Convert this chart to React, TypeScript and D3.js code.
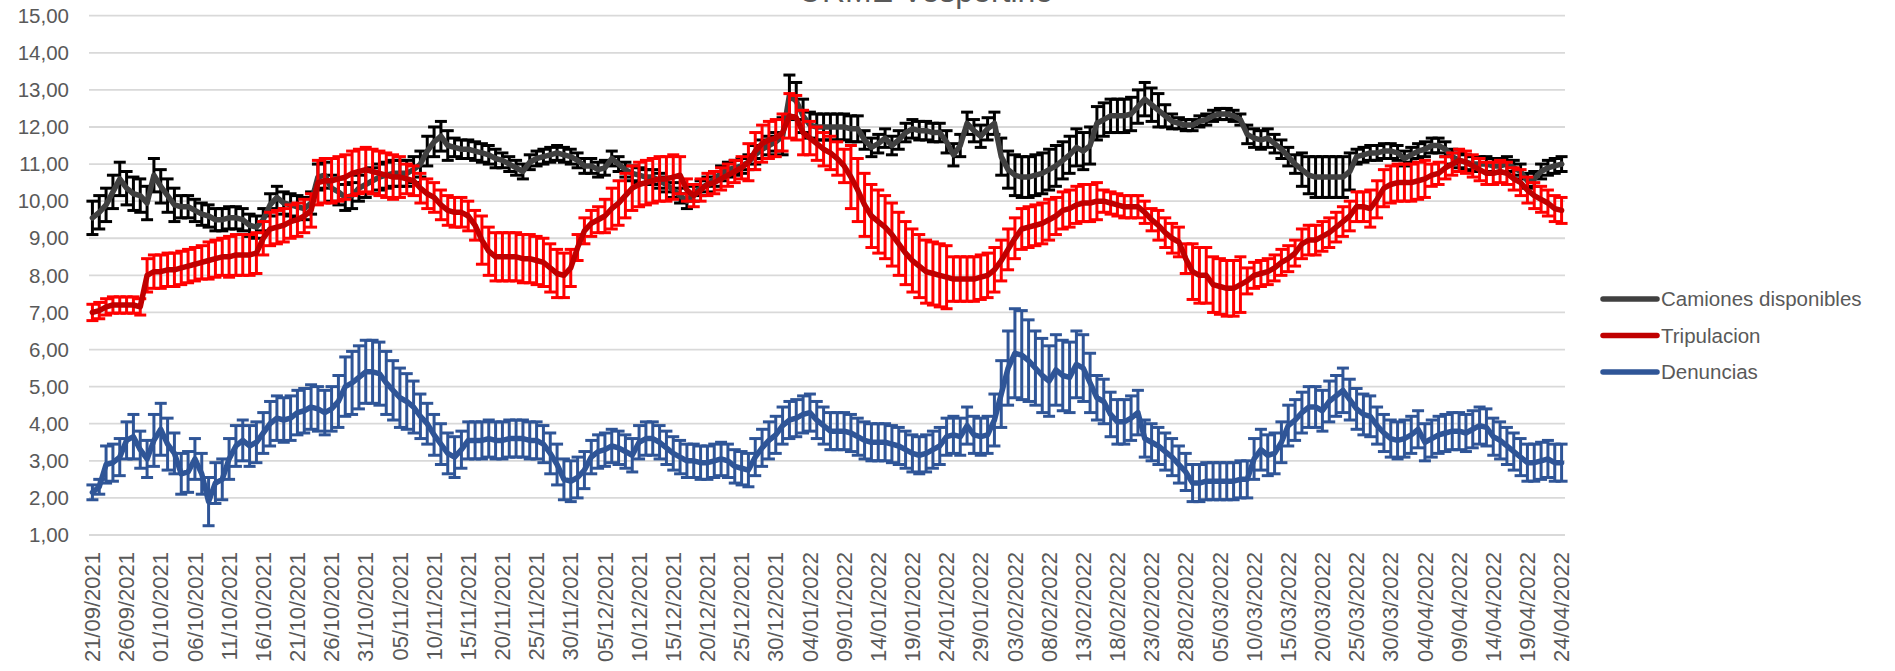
import React from 'react';
import * as d3 from 'd3';

// daily categories 21/09/2021 .. 24/04/2022
const dates = d3.timeDay.range(new Date(2021, 8, 21), new Date(2022, 3, 25));
const fmt = d3.timeFormat('%d/%m/%Y');
const labels = dates.map(d => fmt(d));

const camiones = [
  9.55, 9.7, 9.9, 10.25, 10.6, 10.35, 10.2, 10.15, 9.95, 10.7, 10.4, 10.15, 9.9, 9.85, 9.85, 9.75, 9.65, 9.6, 9.5, 9.5,
  9.55, 9.55, 9.5, 9.35, 9.3, 9.5, 9.9, 10.1, 9.95, 9.9, 9.85, 9.8, 9.95, 10.65, 10.7, 10.35, 10.25, 10.1, 10.15, 10.35,
  10.45, 10.55, 10.65, 10.7, 10.75, 10.75, 10.75, 10.85, 11.0, 11.35, 11.6, 11.75, 11.5, 11.45, 11.4, 11.4, 11.35, 11.3, 11.25, 11.15,
  11.1, 11.0, 10.9, 10.8, 11.05, 11.15, 11.2, 11.25, 11.3, 11.25, 11.2, 11.1, 10.95, 10.95, 10.85, 10.9, 11.15, 11.0, 10.85, 10.75,
  10.7, 10.65, 10.65, 10.55, 10.45, 10.3, 10.15, 10.0, 10.2, 10.35, 10.45, 10.6, 10.75, 10.85, 10.9, 10.95, 11.05, 11.25, 11.4, 11.5,
  11.6, 11.75, 12.85, 12.7, 12.3, 12.05, 12.0, 12.0, 12.0, 12.0, 12.0, 11.95, 11.95, 11.65, 11.45, 11.55, 11.7, 11.5, 11.65, 11.85,
  11.95, 11.9, 11.9, 11.85, 11.85, 11.6, 11.25, 11.5, 12.1, 11.9, 11.75, 11.95, 12.1, 11.2, 10.85, 10.7, 10.65, 10.65, 10.7, 10.75,
  10.85, 10.95, 11.1, 11.25, 11.45, 11.35, 11.5, 12.1, 12.2, 12.3, 12.3, 12.3, 12.35, 12.55, 12.75, 12.6, 12.45, 12.3, 12.15, 12.1,
  12.05, 12.05, 12.15, 12.2, 12.3, 12.35, 12.35, 12.3, 12.2, 11.8, 11.7, 11.65, 11.7, 11.55, 11.4, 11.2, 11.0, 10.85, 10.7, 10.65,
  10.65, 10.65, 10.65, 10.65, 10.8, 11.2, 11.25, 11.3, 11.3, 11.35, 11.35, 11.3, 11.15, 11.25, 11.35, 11.4, 11.5, 11.5, 11.4, 11.2,
  11.1, 11.05, 11.0, 11.0, 11.0, 10.95, 10.95, 11.0, 10.9, 10.8, 10.55, 10.6, 10.8, 10.9, 10.95, 11.0,
];
const camionesErr = [
  0.45, 0.45, 0.45, 0.45, 0.45, 0.45, 0.45, 0.45, 0.45, 0.45, 0.45, 0.45, 0.45, 0.3, 0.3, 0.3, 0.3, 0.3, 0.3, 0.3,
  0.3, 0.3, 0.3, 0.3, 0.3, 0.3, 0.3, 0.3, 0.3, 0.3, 0.3, 0.3, 0.3, 0.35, 0.35, 0.35, 0.35, 0.35, 0.35, 0.35,
  0.35, 0.35, 0.35, 0.35, 0.35, 0.35, 0.35, 0.35, 0.35, 0.4, 0.4, 0.4, 0.4, 0.25, 0.25, 0.25, 0.25, 0.25, 0.25, 0.25,
  0.2, 0.2, 0.2, 0.2, 0.2, 0.2, 0.2, 0.2, 0.2, 0.2, 0.2, 0.2, 0.2, 0.2, 0.2, 0.2, 0.2, 0.2, 0.2, 0.2,
  0.2, 0.2, 0.2, 0.2, 0.2, 0.2, 0.2, 0.2, 0.2, 0.2, 0.2, 0.2, 0.2, 0.2, 0.2, 0.2, 0.2, 0.25, 0.25, 0.25,
  0.25, 0.5, 0.55, 0.5, 0.45, 0.35, 0.35, 0.35, 0.35, 0.35, 0.35, 0.35, 0.35, 0.25, 0.25, 0.25, 0.25, 0.25, 0.25, 0.25,
  0.25, 0.25, 0.25, 0.25, 0.25, 0.3, 0.3, 0.3, 0.3, 0.3, 0.3, 0.3, 0.3, 0.5, 0.5, 0.55, 0.55, 0.55, 0.55, 0.55,
  0.55, 0.55, 0.5, 0.5, 0.5, 0.5, 0.5, 0.45, 0.45, 0.45, 0.45, 0.45, 0.45, 0.45, 0.45, 0.45, 0.45, 0.3, 0.2, 0.15,
  0.15, 0.15, 0.15, 0.15, 0.15, 0.15, 0.15, 0.15, 0.15, 0.25, 0.25, 0.25, 0.25, 0.25, 0.25, 0.25, 0.25, 0.45, 0.5, 0.55,
  0.55, 0.55, 0.55, 0.55, 0.5, 0.2, 0.2, 0.2, 0.2, 0.2, 0.2, 0.2, 0.2, 0.2, 0.2, 0.2, 0.2, 0.2, 0.2, 0.2,
  0.2, 0.2, 0.2, 0.2, 0.2, 0.2, 0.2, 0.2, 0.2, 0.2, 0.2, 0.2, 0.2, 0.2, 0.2, 0.2,
];

const tripulacion = [
  7.0, 7.05, 7.15, 7.2, 7.2, 7.2, 7.2, 7.15, 8.0, 8.1, 8.1, 8.15, 8.15, 8.2, 8.25, 8.3, 8.35, 8.4, 8.45, 8.5,
  8.5, 8.55, 8.55, 8.55, 8.6, 9.0, 9.25, 9.3, 9.35, 9.45, 9.5, 9.6, 9.75, 10.5, 10.55, 10.55, 10.6, 10.65, 10.75, 10.8,
  10.85, 10.8, 10.75, 10.7, 10.65, 10.65, 10.6, 10.55, 10.35, 10.2, 10.1, 9.9, 9.75, 9.7, 9.7, 9.6, 9.35, 8.95, 8.65, 8.5,
  8.5, 8.5, 8.5, 8.45, 8.45, 8.4, 8.35, 8.2, 8.05, 8.0, 8.2, 8.75, 9.2, 9.4, 9.5, 9.6, 9.8, 9.95, 10.15, 10.35,
  10.45, 10.5, 10.55, 10.6, 10.6, 10.65, 10.7, 10.3, 10.15, 10.3, 10.45, 10.5, 10.6, 10.7, 10.8, 10.9, 11.05, 11.35, 11.55, 11.65,
  11.7, 11.85, 12.3, 12.25, 11.85, 11.7, 11.55, 11.4, 11.3, 11.15, 10.95, 10.65, 10.3, 9.9, 9.6, 9.45, 9.3, 9.1, 8.85, 8.6,
  8.4, 8.25, 8.1, 8.05, 8.0, 7.95, 7.9, 7.9, 7.9, 7.9, 7.95, 8.0, 8.15, 8.4, 8.7, 9.0, 9.25, 9.3, 9.35, 9.4,
  9.5, 9.6, 9.75, 9.8, 9.9, 9.95, 9.95, 10.0, 10.0, 9.95, 9.9, 9.85, 9.85, 9.85, 9.7, 9.5, 9.35, 9.15, 9.0, 8.9,
  8.45, 8.1, 8.0, 8.0, 7.75, 7.7, 7.65, 7.65, 7.75, 7.85, 8.0, 8.05, 8.1, 8.2, 8.35, 8.45, 8.6, 8.85, 8.95, 8.95,
  9.05, 9.15, 9.3, 9.45, 9.6, 9.85, 9.85, 9.8, 10.05, 10.35, 10.45, 10.5, 10.5, 10.5, 10.55, 10.6, 10.7, 10.75, 10.9, 11.0,
  11.1, 11.05, 10.95, 10.85, 10.75, 10.75, 10.8, 10.75, 10.6, 10.5, 10.3, 10.15, 10.05, 9.95, 9.8, 9.75,
];
const tripulacionErr = [
  0.22, 0.22, 0.22, 0.22, 0.22, 0.22, 0.22, 0.22, 0.45, 0.45, 0.45, 0.45, 0.45, 0.45, 0.45, 0.45, 0.45, 0.5, 0.5, 0.5,
  0.55, 0.55, 0.55, 0.55, 0.55, 0.45, 0.45, 0.45, 0.45, 0.45, 0.45, 0.45, 0.45, 0.6, 0.6, 0.6, 0.6, 0.6, 0.6, 0.6,
  0.6, 0.6, 0.6, 0.6, 0.6, 0.55, 0.4, 0.4, 0.4, 0.4, 0.4, 0.4, 0.4, 0.4, 0.4, 0.4, 0.4, 0.65, 0.65, 0.65,
  0.65, 0.65, 0.65, 0.65, 0.65, 0.65, 0.65, 0.65, 0.65, 0.6, 0.5, 0.35, 0.35, 0.35, 0.35, 0.45, 0.55, 0.6, 0.6, 0.6,
  0.6, 0.6, 0.6, 0.6, 0.6, 0.6, 0.5, 0.3, 0.3, 0.3, 0.3, 0.3, 0.3, 0.3, 0.3, 0.3, 0.5, 0.5, 0.5, 0.5,
  0.5, 0.5, 0.6, 0.6, 0.6, 0.45, 0.45, 0.45, 0.45, 0.45, 0.45, 0.85, 0.85, 0.85, 0.85, 0.85, 0.85, 0.85, 0.85, 0.85,
  0.85, 0.85, 0.85, 0.85, 0.85, 0.85, 0.6, 0.6, 0.6, 0.6, 0.6, 0.6, 0.6, 0.55, 0.55, 0.55, 0.55, 0.55, 0.55, 0.55,
  0.55, 0.5, 0.5, 0.5, 0.5, 0.5, 0.5, 0.5, 0.3, 0.3, 0.3, 0.3, 0.3, 0.3, 0.3, 0.3, 0.4, 0.4, 0.4, 0.4,
  0.4, 0.75, 0.75, 0.75, 0.75, 0.75, 0.75, 0.75, 0.75, 0.35, 0.35, 0.35, 0.35, 0.35, 0.35, 0.35, 0.35, 0.4, 0.4, 0.4,
  0.4, 0.4, 0.4, 0.4, 0.4, 0.4, 0.4, 0.5, 0.5, 0.5, 0.5, 0.5, 0.5, 0.5, 0.5, 0.5, 0.3, 0.3, 0.3, 0.3,
  0.3, 0.3, 0.3, 0.3, 0.3, 0.3, 0.3, 0.3, 0.3, 0.35, 0.35, 0.35, 0.35, 0.35, 0.35, 0.35,
];

const denuncias = [
  2.15, 2.3, 2.9, 2.95, 3.1, 3.55, 3.65, 3.3, 3.05, 3.55, 3.85, 3.45, 3.2, 2.65, 2.7, 3.05, 2.65, 1.9, 2.4, 2.5,
  3.05, 3.4, 3.55, 3.4, 3.5, 3.75, 4.0, 4.15, 4.1, 4.15, 4.3, 4.35, 4.45, 4.4, 4.3, 4.4, 4.6, 5.0, 5.1, 5.25,
  5.4, 5.4, 5.35, 5.1, 4.9, 4.7, 4.6, 4.45, 4.2, 4.0, 3.7, 3.45, 3.2, 3.1, 3.3, 3.55, 3.55, 3.55, 3.6, 3.55,
  3.55, 3.6, 3.6, 3.6, 3.55, 3.55, 3.45, 3.2, 2.9, 2.5, 2.45, 2.55, 2.75, 3.1, 3.25, 3.3, 3.4, 3.35, 3.25, 3.15,
  3.5, 3.6, 3.6, 3.5, 3.35, 3.2, 3.1, 3.0, 3.0, 2.95, 2.95, 3.0, 3.05, 3.0, 2.85, 2.8, 2.75, 3.1, 3.35, 3.55,
  3.7, 3.95, 4.1, 4.15, 4.25, 4.3, 4.1, 3.95, 3.8, 3.8, 3.8, 3.75, 3.65, 3.55, 3.5, 3.5, 3.5, 3.45, 3.4, 3.3,
  3.2, 3.15, 3.2, 3.3, 3.4, 3.65, 3.7, 3.65, 3.95, 3.7, 3.65, 3.7, 4.1, 4.8, 5.5, 5.9, 5.85, 5.7, 5.5, 5.3,
  5.15, 5.45, 5.3, 5.25, 5.6, 5.5, 5.1, 4.7, 4.6, 4.25, 4.05, 4.05, 4.15, 4.3, 3.6, 3.5, 3.4, 3.25, 3.1, 2.9,
  2.7, 2.4, 2.4, 2.45, 2.45, 2.45, 2.45, 2.45, 2.5, 2.5, 3.05, 3.3, 3.15, 3.2, 3.5, 3.95, 4.1, 4.3, 4.45, 4.45,
  4.35, 4.6, 4.75, 4.9, 4.65, 4.4, 4.25, 4.2, 3.95, 3.75, 3.6, 3.55, 3.6, 3.7, 3.85, 3.5, 3.6, 3.7, 3.75, 3.8,
  3.8, 3.75, 3.85, 3.95, 3.9, 3.65, 3.55, 3.4, 3.25, 3.1, 2.95, 2.95, 3.0, 3.05, 2.95, 2.95,
];
const denunciasErr = [
  0.2, 0.2, 0.5, 0.5, 0.5, 0.5, 0.6, 0.5, 0.5, 0.7, 0.7, 0.7, 0.55, 0.55, 0.55, 0.55, 0.55, 0.65, 0.55, 0.55,
  0.55, 0.55, 0.55, 0.55, 0.55, 0.55, 0.6, 0.6, 0.6, 0.6, 0.6, 0.6, 0.6, 0.6, 0.6, 0.6, 0.7, 0.8, 0.85, 0.85,
  0.85, 0.85, 0.85, 0.85, 0.8, 0.8, 0.75, 0.7, 0.6, 0.55, 0.55, 0.55, 0.55, 0.55, 0.5, 0.5, 0.5, 0.5, 0.5, 0.5,
  0.5, 0.5, 0.5, 0.5, 0.5, 0.5, 0.5, 0.55, 0.55, 0.55, 0.55, 0.55, 0.5, 0.45, 0.45, 0.45, 0.45, 0.45, 0.45, 0.45,
  0.45, 0.45, 0.45, 0.45, 0.45, 0.45, 0.45, 0.45, 0.45, 0.45, 0.45, 0.45, 0.45, 0.45, 0.45, 0.45, 0.45, 0.5, 0.5, 0.5,
  0.5, 0.5, 0.5, 0.5, 0.5, 0.5, 0.5, 0.5, 0.5, 0.5, 0.5, 0.5, 0.5, 0.5, 0.5, 0.5, 0.5, 0.5, 0.5, 0.5,
  0.5, 0.5, 0.5, 0.5, 0.5, 0.5, 0.5, 0.5, 0.5, 0.5, 0.5, 0.5, 0.7, 0.9, 1.0, 1.2, 1.2, 1.1, 1.0, 1.0,
  0.95, 0.95, 0.95, 0.95, 0.9, 0.9, 0.8, 0.6, 0.6, 0.6, 0.6, 0.6, 0.6, 0.6, 0.5, 0.5, 0.5, 0.5, 0.5, 0.5,
  0.5, 0.5, 0.5, 0.5, 0.5, 0.5, 0.5, 0.5, 0.5, 0.5, 0.55, 0.55, 0.55, 0.55, 0.55, 0.55, 0.55, 0.55, 0.55, 0.55,
  0.55, 0.55, 0.55, 0.6, 0.55, 0.55, 0.55, 0.55, 0.5, 0.5, 0.5, 0.5, 0.5, 0.5, 0.5, 0.5, 0.5, 0.5, 0.5, 0.5,
  0.5, 0.5, 0.5, 0.5, 0.5, 0.5, 0.5, 0.5, 0.5, 0.5, 0.5, 0.5, 0.5, 0.5, 0.5, 0.5,
];

const series = [
  { name: 'Camiones disponibles', values: camiones, err: camionesErr, line: '#404040', bar: '#000000' },
  { name: 'Tripulacion', values: tripulacion, err: tripulacionErr, line: '#c00000', bar: '#ff0000' },
  { name: 'Denuncias', values: denuncias, err: denunciasErr, line: '#2f5597', bar: '#2f5597' },
];

const yTicks = d3.range(1, 16);
const W = 1895;
const H = 671;
const font = '"Liberation Sans", Arial, sans-serif';
const grey = '#595959';

export default function App() {
  const x = d3.scalePoint<number>().domain(labels.map((_, i) => i)).range([89, 1565]).padding(0.5);
  const y = d3.scaleLinear().domain([1, 15]).range([535, 15.7]);
  const line = d3.line<number>().x((_, i) => x(i)!).y(d => y(d));
  const cap = 6;

  return (
    <svg width={W} height={H} style={{ position: 'absolute', left: 0, top: 0, background: '#fff' }}>
      <text x={926} y={2} textAnchor="middle" fontFamily={font} fontSize={32} fill={grey}>URME Vespertino</text>

      {yTicks.map(t => (
        <g key={t}>
          <line x1={89} x2={1565} y1={y(t)} y2={y(t)} stroke="#d9d9d9" strokeWidth={1.8} />
          <text x={69} y={y(t)} dy="0.35em" textAnchor="end" fontFamily={font} fontSize={20.5} fill={grey}>
            {d3.format('.2f')(t).replace('.', ',')}
          </text>
        </g>
      ))}

      {labels.map((l, i) => i % 5 === 0 ? (
        <text key={l} transform={`translate(${x(i)},552) rotate(-90)`} dy="0.35em" textAnchor="end"
          fontFamily={font} fontSize={22} fill={grey}>{l}</text>
      ) : null)}

      {series.map(s => (
        <g key={s.name}>
          <g stroke={s.bar} strokeWidth={3}>
            {s.values.map((v, i) => {
              const cx = x(i)!;
              const y0 = y(v - s.err[i]);
              const y1 = y(v + s.err[i]);
              return (
                <g key={i}>
                  <line x1={cx} x2={cx} y1={y0} y2={y1} />
                  <line x1={cx - cap} x2={cx + cap} y1={y0} y2={y0} />
                  <line x1={cx - cap} x2={cx + cap} y1={y1} y2={y1} />
                </g>
              );
            })}
          </g>
          <path d={line(s.values)!} fill="none" stroke={s.line} strokeWidth={5.5} strokeLinejoin="round" strokeLinecap="round" />
        </g>
      ))}

      {series.map((s, k) => {
        const ly = 299 + k * 36.5;
        return (
          <g key={s.name}>
            <line x1={1603} x2={1657} y1={ly} y2={ly} stroke={s.line} strokeWidth={5.5} strokeLinecap="round" />
            <text x={1661} y={ly} dy="0.35em" fontFamily={font} fontSize={20.5} fill={grey}>{s.name}</text>
          </g>
        );
      })}
    </svg>
  );
}
